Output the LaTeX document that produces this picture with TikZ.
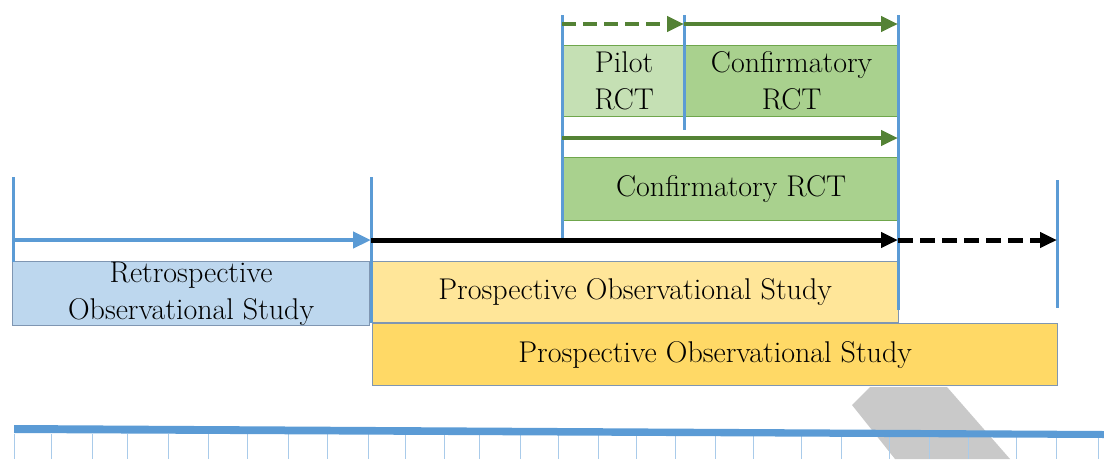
\documentclass[tikz,border=0pt]{standalone}
\usepackage{fontspec}
\usetikzlibrary{arrows.meta}

\definecolor{lineblue}{HTML}{5B9BD5}
\definecolor{tickblue}{HTML}{A9CBEA}
\definecolor{retrofill}{HTML}{BDD7EE}
\definecolor{pilotfill}{HTML}{C5E0B4}
\definecolor{confirmfill}{HTML}{A9D18E}
\definecolor{prosplight}{HTML}{FFE699}
\definecolor{prospdark}{HTML}{FFD966}
\definecolor{arrowgreen}{HTML}{548235}
\definecolor{boxedge}{HTML}{7F96B2}
\definecolor{greenedge}{HTML}{6FA64C}
\definecolor{shadowgrey}{HTML}{C9C9C9}

\tikzset{
  studybox/.style={draw, line width=1.2pt, inner sep=0pt, anchor=north west,
    align=center, font=\fontsize{30}{37}\selectfont},
  phaseline/.style={draw=lineblue, line width=3pt},
  bluearrow/.style={draw=lineblue, line width=4.5pt, -{Triangle[length=18pt,width=16pt]}},
  blackarrow/.style={draw=black, line width=5pt, -{Triangle[length=17pt,width=15pt]}},
  greenarrow/.style={draw=arrowgreen, line width=4.5pt, -{Triangle[length=17pt,width=15pt]}},
  tickline/.style={draw=tickblue, line width=1pt}
}

\begin{document}
\begin{tikzpicture}[x=1pt,y=-1pt]
    \useasboundingbox (0,0) rectangle (1104,459);

    % grey band behind the time axis
    \fill[shadowgrey] (870,387) -- (947,387) -- (1010,459) -- (895,459) -- (852,405) -- cycle;

    % boxes
    \node[studybox, fill=retrofill, draw=boxedge, minimum width=357, minimum height=63]
        (retro) at (12,261) {Retrospective\\Observational Study};
    \node[studybox, fill=prosplight, draw=boxedge, minimum width=527, minimum height=61]
        (prospA) at (371,261) {Prospective Observational Study};
    \node[studybox, fill=prospdark, draw=boxedge, minimum width=685, minimum height=62]
        (prospB) at (372,323) {Prospective Observational Study};
    \node[studybox, fill=pilotfill, draw=greenedge, minimum width=121, minimum height=71]
        (pilot) at (563,45) {Pilot\\RCT};
    \node[studybox, fill=confirmfill, draw=greenedge, minimum width=214, minimum height=71]
        (confA) at (684,45) {Confirmatory\\RCT};
    \node[studybox, fill=confirmfill, draw=greenedge, minimum width=335, minimum height=63]
        (confB) at (563,157) {Confirmatory RCT};

    % phase boundaries
    \draw[phaseline] (13,177) -- (13,262);
    \draw[phaseline] (371,177) -- (371,323);
    \draw[phaseline] (562,15) -- (562,240);
    \draw[phaseline] (684,15) -- (684,130);
    \draw[phaseline] (898,15) -- (898,310);
    \draw[phaseline] (1057,180) -- (1057,308);

    \coordinate (retroStart) at (13,240);
    \coordinate (prospStart) at (371,240);
    \coordinate (prospEnd) at (898,240);
    \coordinate (followEnd) at (1057,240);
    \coordinate (pilotStart) at (562,24);
    \coordinate (pilotEnd) at (684,24);
    \coordinate (confEnd) at (898,24);
    \coordinate (rctStart) at (562,138);
    \coordinate (rctEnd) at (898,138);

    % arrows
    \draw[bluearrow] (retroStart) -- (prospStart);
    \draw[blackarrow] (prospStart) -- (prospEnd);
    \draw[blackarrow, dash pattern=on 15pt off 7pt] (prospEnd) -- (followEnd);
    \draw[greenarrow, dash pattern=on 14pt off 7pt] (pilotStart) -- (pilotEnd);
    \draw[greenarrow] (pilotEnd) -- (confEnd);
    \draw[greenarrow] (rctStart) -- (rctEnd);

    % time axis
    \foreach \x in {14,51,92,127,168,208,247,288,327,368,405,444,479,520,558,598,
                    636,675,715,753,801,841,889,929,968,1016,1056,1098}
        \draw[tickline] (\x,434) -- (\x,459);
    \fill[lineblue] (14,425) -- (1104,431) -- (1104,438) -- (14,433) -- cycle;
\end{tikzpicture}
\end{document}
